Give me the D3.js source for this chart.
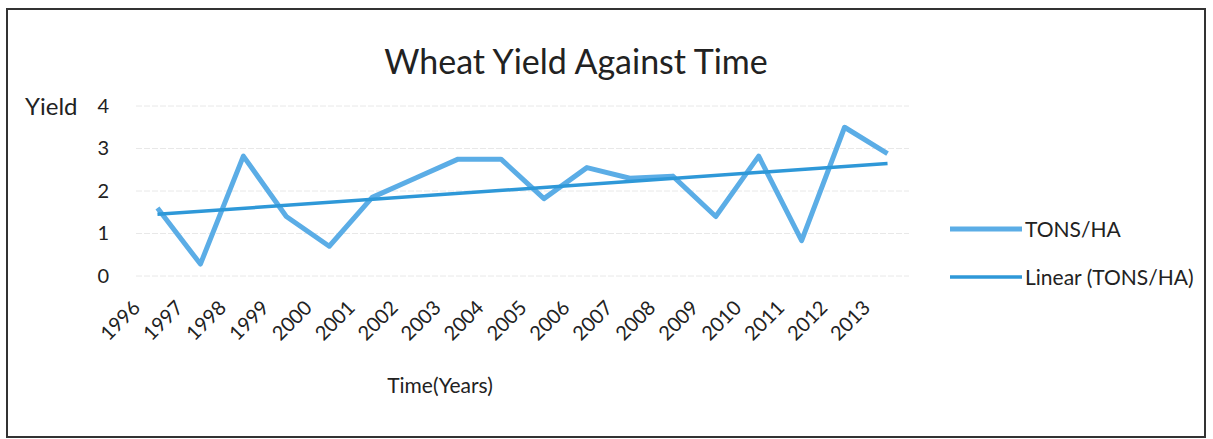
<!DOCTYPE html>
<html>
<head>
<meta charset="utf-8">
<script src="https://cdn.jsdelivr.net/npm/d3@7"></script>
<style>
  body { margin: 0; background: #fff; }
  text { font-family: Lato, "Open Sans", sans-serif; fill: #222; }
</style>
</head>
<body>
<script>
const years = ["1996", "1997", "1998", "1999", "2000", "2001", "2002", "2003", "2004",
    "2005", "2006", "2007", "2008", "2009", "2010", "2011", "2012", "2013"];
const tonsPerHa = [1.6, 0.28, 2.82, 1.4, 0.7, 1.85, 2.3, 2.75, 2.75,
    1.82, 2.55, 2.3, 2.35, 1.4, 2.82, 0.83, 3.5, 2.88];
const yTicks = [0, 1, 2, 3, 4];
const seriesNames = ["TONS/HA", "Linear (TONS/HA)"];

const W = 1213, H = 439;
const plot = { left: 136, right: 909, top: 106, bottom: 276 };

const svg = d3.select("body").append("svg")
    .attr("width", W)
    .attr("height", H);

// outer frame
svg.append("rect")
    .attr("x", 7).attr("y", 9)
    .attr("width", 1198).attr("height", 428)
    .attr("fill", "none")
    .attr("stroke", "#333")
    .attr("stroke-width", 2);

const xScale = d3.scaleBand().domain(years).range([plot.left, plot.right]);
const yScale = d3.scaleLinear().domain([0, 4]).range([plot.bottom, plot.top]);
const xPos = d => xScale(d) + xScale.bandwidth() / 2;

// gridlines
svg.append("g")
    .selectAll("line")
    .data(yTicks)
    .join("line")
    .attr("x1", plot.left).attr("x2", plot.right)
    .attr("y1", d => yScale(d)).attr("y2", d => yScale(d))
    .attr("stroke", "#e8e8e8")
    .attr("stroke-dasharray", "6,2");

// y axis
const yAxis = d3.axisLeft(yScale).tickValues(yTicks).tickSize(0).tickPadding(0).tickFormat(d3.format("d"));
svg.append("g")
    .attr("transform", "translate(109,0)")
    .call(yAxis)
    .call(g => g.select(".domain").remove())
    .selectAll("text")
    .style("font-family", "Lato, sans-serif")
    .style("font-size", "20px")
    .attr("fill", "#222");

// x axis
const xAxis = d3.axisBottom(xScale).tickSize(0).tickPadding(0);
svg.append("g")
    .attr("transform", `translate(0,${plot.bottom})`)
    .call(xAxis)
    .call(g => g.select(".domain").remove())
    .selectAll("text")
    .style("font-family", "Lato, sans-serif")
    .style("font-size", "20px")
    .attr("fill", "#222")
    .attr("text-anchor", "end")
    .attr("dy", null)
    .attr("y", 0)
    .attr("transform", "translate(-16,33) rotate(-45)");

// data line
const line = d3.line()
    .x((d, i) => xPos(years[i]))
    .y(d => yScale(d));

svg.append("path")
    .datum(tonsPerHa)
    .attr("d", line)
    .attr("fill", "none")
    .attr("stroke", "#5badE6")
    .attr("stroke-width", 5)
    .attr("stroke-linejoin", "round");

// linear trend (least squares on the series)
const n = tonsPerHa.length;
const mx = (n - 1) / 2;
const my = d3.mean(tonsPerHa);
const slope = d3.sum(tonsPerHa, (d, i) => (i - mx) * (d - my)) / d3.sum(tonsPerHa, (d, i) => (i - mx) * (i - mx));
const trend = [my - slope * mx, my + slope * mx];

svg.append("line")
    .attr("x1", xPos(years[0])).attr("y1", yScale(trend[0]))
    .attr("x2", xPos(years[n - 1])).attr("y2", yScale(trend[1]))
    .attr("stroke", "#2e98d8")
    .attr("stroke-width", 3.5);

// title and axis labels
svg.append("text")
    .attr("x", 576).attr("y", 74)
    .attr("text-anchor", "middle")
    .style("font-size", "34px")
    .text("Wheat Yield Against Time");

svg.append("text")
    .attr("x", 25).attr("y", 115)
    .style("font-size", "24px")
    .text("Yield");

svg.append("text")
    .attr("x", 440).attr("y", 393)
    .attr("text-anchor", "middle")
    .style("font-size", "21px")
    .text("Time(Years)");

// legend
const legend = svg.append("g")
    .selectAll("g")
    .data(seriesNames)
    .join("g")
    .attr("transform", (d, i) => `translate(950,${229 + i * 48})`);

legend.append("line")
    .attr("x1", 0).attr("x2", 72)
    .attr("stroke", (d, i) => i === 0 ? "#5badE6" : "#2e98d8")
    .attr("stroke-width", (d, i) => i === 0 ? 5 : 3.5);

legend.append("text")
    .attr("x", 75).attr("y", 8)
    .style("font-size", "21px")
    .text(d => d);
</script>
</body>
</html>
